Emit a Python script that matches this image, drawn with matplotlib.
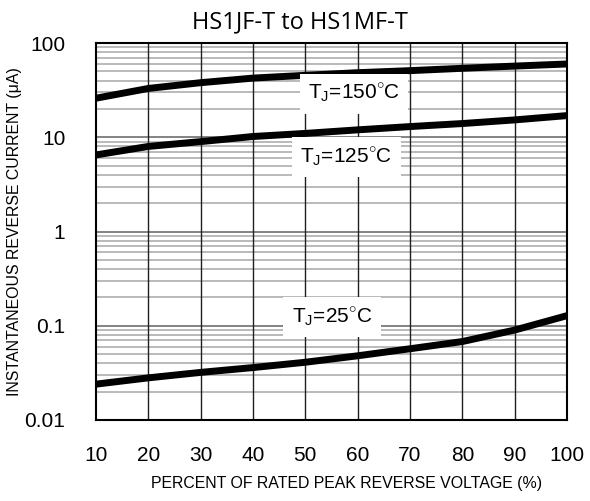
import matplotlib
matplotlib.use('Agg')
import matplotlib.pyplot as plt
import numpy as np

plt.rcParams['font.family'] = ['Liberation Sans', 'DejaVu Sans']
plt.rcParams['mathtext.fontset'] = 'custom'
plt.rcParams['mathtext.rm'] = 'Liberation Sans'

# percent of rated peak reverse voltage
volt = [10, 20, 30, 40, 50, 60, 70, 80, 90, 100]
# reverse current (uA)
i150 = [26, 33, 38, 42.5, 45.5, 48.5, 51, 54, 57, 60]
i125 = [6.5, 8.0, 9.0, 10.2, 11.0, 12.0, 13.0, 14.0, 15.3, 17.0]
i25 = [0.024, 0.028, 0.032, 0.036, 0.041, 0.048, 0.057, 0.068, 0.090, 0.128]

labels = ['T$_\\mathregular{J}$=150$^{\\circ}$C',
          'T$_\\mathregular{J}$=125$^{\\circ}$C',
          'T$_\\mathregular{J}$=25$^{\\circ}$C']
ytick_vals = [0.01, 0.1, 1, 10, 100]
ytick_text = ['0.01', '0.1', '1', '10', '100']

fig = plt.figure(figsize=(5.9, 5.01), dpi=100)
ax = fig.add_axes([0.1627, 0.1617, 0.7983, 0.7523])
ax.set_yscale('log')
ax.set_xlim(10, 100)
ax.set_ylim(0.01, 100)

# gridlines
minor = [m * 10.0**d for d in range(-2, 2) for m in range(2, 10)]
for yv in minor:
    ax.axhline(yv, color='#b4b4b4', lw=1.3, zorder=1)
for yv in [0.1, 1, 10]:
    ax.axhline(yv, color='#7a7a7a', lw=1.3, zorder=1)
for xv in volt[1:-1]:
    ax.axvline(xv, color='#202020', lw=1.0, zorder=2)

for ys in (i150, i125, i25):
    ax.plot(volt, ys, color='black', lw=5, solid_capstyle='butt', zorder=4)

box = dict(facecolor='white', edgecolor='none', pad=6)
ax.text(59.3, 29.0, labels[0], fontsize=15, ha='center', va='center', bbox=box, zorder=5)
ax.text(57.8, 6.2, labels[1], fontsize=15, ha='center', va='center', bbox=box, zorder=5)
ax.text(55.1, 0.124, labels[2], fontsize=15, ha='center', va='center', bbox=box, zorder=5)

ax.set_xticks(volt)
ax.set_xticklabels([str(v) for v in volt])
ax.set_yticks(ytick_vals)
ax.set_yticklabels(ytick_text)
ax.minorticks_off()
ax.tick_params(axis='both', length=0, labelsize=15)
ax.tick_params(axis='x', pad=19)
ax.tick_params(axis='y', pad=22)
for s in ax.spines.values():
    s.set_linewidth(1.5)
    s.set_zorder(6)

ax.set_xlabel('PERCENT OF RATED PEAK REVERSE VOLTAGE (%)', fontsize=11.4)
ax.xaxis.set_label_coords(0.531, -0.148)
ax.set_ylabel('INSTANTANEOUS REVERSE CURRENT (\u03bcA)', fontsize=11.4, labelpad=2)
fig.text(300 / 590, 1 - 22 / 501, 'HS1JF-T to HS1MF-T', fontsize=17,
         family=['Open Sans', 'DejaVu Sans'], ha='center', va='center')

fig.savefig('out.png', dpi=100)
